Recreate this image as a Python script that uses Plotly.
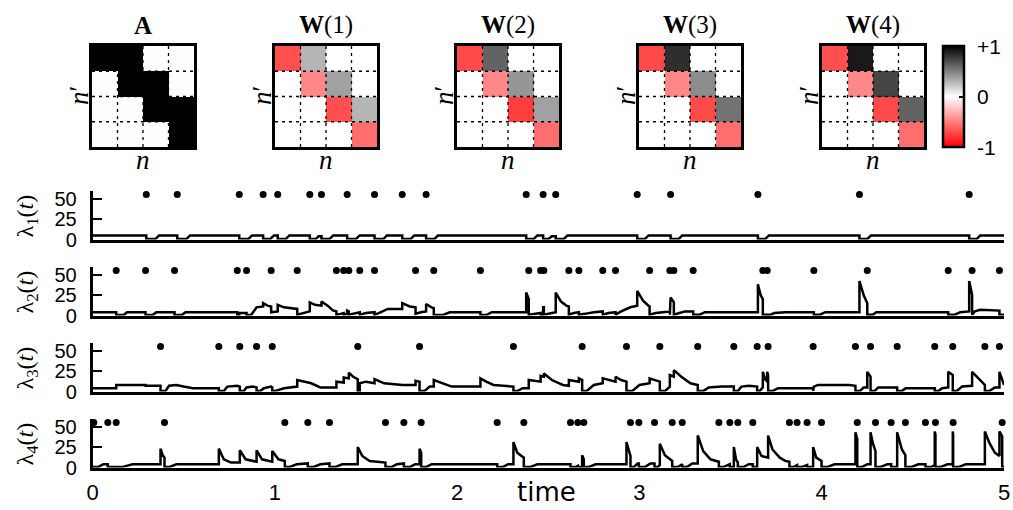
import plotly.graph_objects as go

# ---------------- data ----------------
MAT_A = [[1, 1, 0, 0], [0, 1, 1, 0], [0, 0, 1, 1], [0, 0, 0, 1]]
MAT_W1 = [[-0.69, 0.29, 0, 0], [0, -0.47, 0.37, 0], [0, 0, -0.69, 0.29], [0, 0, 0, -0.57]]
MAT_W2 = [[-0.71, 0.61, 0, 0], [0, -0.47, 0.41, 0], [0, 0, -0.76, 0.37], [0, 0, 0, -0.57]]
MAT_W3 = [[-0.71, 0.82, 0, 0], [0, -0.47, 0.45, 0], [0, 0, -0.71, 0.55], [0, 0, 0, -0.57]]
MAT_W4 = [[-0.69, 0.90, 0, 0], [0, -0.47, 0.73, 0], [0, 0, -0.71, 0.61], [0, 0, 0, -0.57]]
MAT_TITLES = ["<b>A</b>", "<b>W</b>(1)", "<b>W</b>(2)", "<b>W</b>(3)", "<b>W</b>(4)"]
CBAR_VALUES = [-1, 0, 1]
CBAR_LABELS = ["-1", "0", "+1"]

SPIKES1 = [0.295, 0.465, 0.805, 0.936, 1.016, 1.192, 1.256, 1.397, 1.547, 1.699, 1.830,
           2.379, 2.472, 2.541, 2.988, 3.171, 3.650, 4.207, 4.809]
SPIKES2 = [0.130, 0.291, 0.450, 0.794, 0.845, 0.980, 1.123, 1.338, 1.378, 1.406, 1.466,
           1.547, 1.772, 1.872, 2.128, 2.393, 2.458, 2.476, 2.613, 2.668, 2.799, 2.869,
           3.056, 3.167, 3.189, 3.295, 3.677, 3.701, 3.957, 4.250, 4.694, 4.825, 4.975]
SPIKES3 = [0.373, 0.693, 0.808, 0.900, 0.986, 1.455, 1.794, 2.309, 2.686, 2.929, 3.112,
           3.320, 3.518, 3.646, 3.706, 3.953, 4.185, 4.268, 4.414, 4.620, 4.719, 4.895, 4.975]
SPIKES4 = [0.007, 0.084, 0.130, 0.395, 1.055, 1.181, 1.300, 1.607, 1.708, 1.803, 2.220,
           2.366, 2.622, 2.662, 2.695, 2.951, 2.997, 3.083, 3.180, 3.235, 3.436, 3.496,
           3.540, 3.622, 3.823, 3.865, 3.920, 3.999, 4.195, 4.295, 4.381, 4.459, 4.569,
           4.624, 4.721, 4.990]
SPIKE_LEVEL = 55

LAM1 = [(0, 5), (0.295, 5), (0.295, 0.5), (0.345, 0.5), (0.365, 5),
        (0.465, 5), (0.465, 0.5), (0.515, 0.5), (0.535, 5),
        (0.805, 5), (0.805, 0.5), (0.855, 0.5), (0.875, 5),
        (0.936, 5), (0.936, 0.5), (0.975, 0.5), (0.995, 5),
        (1.016, 5), (1.016, 0.5), (1.06, 0.5), (1.08, 5),
        (1.192, 5), (1.192, 0.5), (1.225, 0.5), (1.24, 4),
        (1.256, 4), (1.256, 0.5), (1.3, 0.5), (1.32, 5),
        (1.397, 5), (1.397, 0.5), (1.445, 0.5), (1.465, 5),
        (1.547, 5), (1.547, 0.5), (1.595, 0.5), (1.615, 5),
        (1.699, 5), (1.699, 0.5), (1.745, 0.5), (1.765, 5),
        (1.83, 5), (1.83, 0.5), (1.875, 0.5), (1.895, 5),
        (2.379, 5), (2.379, 0.5), (2.42, 0.5), (2.44, 5),
        (2.472, 5), (2.472, 0.5), (2.5, 0.5), (2.52, 4),
        (2.541, 4), (2.541, 0.5), (2.585, 0.5), (2.605, 5),
        (2.988, 5), (2.988, 0.5), (3.03, 0.5), (3.05, 5),
        (3.171, 5), (3.171, 0.5), (3.215, 0.5), (3.235, 5),
        (3.65, 5), (3.65, 0.5), (3.69, 0.5), (3.71, 5),
        (4.207, 5), (4.207, 0.5), (4.25, 0.5), (4.27, 5),
        (4.809, 5), (4.809, 0.5), (4.85, 0.5), (4.87, 5), (5.0, 5)]

LAM2 = [(0, 4), (0.13, 4), (0.13, 0.5), (0.17, 0.5), (0.19, 4),
        (0.291, 4), (0.291, 0.5), (0.33, 0.5), (0.35, 4),
        (0.45, 4), (0.45, 0.5), (0.49, 0.5), (0.51, 4),
        (0.794, 4), (0.794, 0.5), (0.805, 0.5), (0.805, 3), (0.845, 3), (0.845, 0.5),
        (0.87, 0.5), (0.90, 10), (0.936, 11), (0.936, 15), (0.96, 12), (0.98, 11),
        (0.98, 4), (1.016, 5), (1.016, 13), (1.05, 10), (1.10, 8), (1.123, 8), (1.123, 1),
        (1.16, 3), (1.192, 5), (1.192, 16), (1.22, 13), (1.256, 12), (1.256, 17),
        (1.29, 12), (1.32, 6), (1.338, 5), (1.338, 1), (1.36, 2), (1.378, 3), (1.378, 1),
        (1.397, 2), (1.397, 6), (1.406, 5), (1.406, 1), (1.44, 3), (1.466, 4),
        (1.466, 1), (1.50, 3), (1.547, 4), (1.547, 1), (1.57, 3), (1.62, 8), (1.699, 8),
        (1.699, 15), (1.74, 11), (1.772, 10), (1.772, 2), (1.80, 4), (1.83, 5),
        (1.83, 14), (1.86, 10), (1.872, 9), (1.872, 0.5), (1.92, 0.5), (1.96, 4),
        (2.128, 4), (2.128, 0.5), (2.16, 0.5), (2.19, 4),
        (2.379, 4), (2.379, 28), (2.393, 20), (2.393, 1), (2.42, 2), (2.458, 3),
        (2.458, 1), (2.472, 1), (2.472, 10), (2.476, 10), (2.476, 1), (2.51, 3),
        (2.541, 4), (2.541, 28), (2.57, 17), (2.60, 12), (2.613, 11), (2.613, 1),
        (2.64, 3), (2.668, 4), (2.668, 1), (2.70, 2), (2.75, 4), (2.799, 5), (2.799, 1),
        (2.83, 3), (2.869, 4), (2.869, 1), (2.90, 5), (2.95, 10), (2.988, 12),
        (2.988, 30), (3.02, 18), (3.05, 12), (3.056, 11), (3.056, 1), (3.09, 3),
        (3.167, 5), (3.167, 1), (3.171, 1), (3.171, 22), (3.189, 16), (3.189, 1),
        (3.22, 3), (3.25, 5), (3.295, 5), (3.295, 1), (3.33, 1), (3.36, 4),
        (3.65, 4), (3.65, 38), (3.665, 25), (3.677, 20), (3.677, 1), (3.701, 1),
        (3.72, 1), (3.74, 3), (3.80, 4), (3.957, 4), (3.957, 1), (3.99, 1), (4.02, 4),
        (4.207, 4), (4.207, 42), (4.23, 25), (4.25, 15), (4.25, 1), (4.28, 1),
        (4.30, 4), (4.694, 4), (4.694, 1), (4.73, 1), (4.76, 4), (4.809, 5),
        (4.809, 42), (4.825, 25), (4.825, 1), (4.84, 5), (4.87, 7), (4.94, 6),
        (4.975, 6), (4.975, 1), (5.0, 1)]

LAM3 = [(0, 4), (0.13, 4), (0.13, 8), (0.291, 8), (0.291, 7), (0.373, 7), (0.373, 0.5),
        (0.40, 0.5), (0.42, 7), (0.46, 8), (0.50, 6), (0.55, 4), (0.693, 4),
        (0.693, 0.5), (0.72, 0.5), (0.74, 6), (0.794, 7), (0.808, 6), (0.808, 0.5),
        (0.83, 0.5), (0.845, 5), (0.88, 6), (0.9, 5), (0.9, 0.5), (0.92, 0.5),
        (0.94, 4), (0.98, 6), (0.986, 5), (0.986, 0.5), (1.0, 0.5), (1.05, 4),
        (1.10, 6), (1.123, 6), (1.123, 14), (1.16, 12), (1.20, 10), (1.25, 5),
        (1.338, 5), (1.338, 12), (1.378, 11), (1.378, 17), (1.406, 16), (1.406, 23),
        (1.43, 18), (1.455, 15), (1.455, 0.5), (1.466, 0.5), (1.466, 10), (1.50, 12),
        (1.547, 10), (1.547, 15), (1.60, 10), (1.70, 8), (1.772, 8), (1.772, 13),
        (1.794, 12), (1.794, 0.5), (1.82, 0.5), (1.85, 6), (1.872, 6), (1.872, 14),
        (1.92, 10), (1.97, 6), (2.128, 6), (2.128, 16), (2.16, 12), (2.20, 8),
        (2.309, 6), (2.309, 0.5), (2.33, 0.5), (2.36, 4), (2.393, 4), (2.393, 14),
        (2.458, 12), (2.458, 19), (2.476, 18), (2.476, 22), (2.52, 14), (2.58, 8),
        (2.613, 7), (2.613, 14), (2.668, 12), (2.668, 16), (2.686, 14), (2.686, 0.5),
        (2.71, 0.5), (2.75, 8), (2.799, 10), (2.799, 16), (2.869, 12), (2.869, 18),
        (2.90, 14), (2.929, 12), (2.929, 0.5), (2.96, 0.5), (3.0, 8), (3.056, 10),
        (3.056, 16), (3.112, 12), (3.112, 0.5), (3.14, 0.5), (3.167, 6), (3.167, 20),
        (3.189, 18), (3.189, 26), (3.23, 18), (3.28, 10), (3.32, 8), (3.32, 0.5),
        (3.35, 0.5), (3.38, 5), (3.45, 6), (3.518, 6), (3.518, 0.5), (3.54, 0.5),
        (3.56, 6), (3.60, 7), (3.646, 6), (3.646, 0.5), (3.66, 0.5), (3.677, 5),
        (3.677, 24), (3.69, 15), (3.701, 12), (3.701, 24), (3.706, 20), (3.706, 0.5),
        (3.73, 0.5), (3.76, 4), (3.953, 4), (3.953, 0.5), (3.957, 0.5), (3.957, 6),
        (3.98, 8), (4.15, 8), (4.185, 7), (4.185, 0.5), (4.21, 0.5), (4.23, 5),
        (4.25, 5), (4.25, 24), (4.268, 18), (4.268, 0.5), (4.29, 0.5), (4.31, 5),
        (4.414, 5), (4.414, 0.5), (4.44, 0.5), (4.46, 4), (4.62, 4), (4.62, 0.5),
        (4.64, 0.5), (4.66, 4), (4.694, 5), (4.694, 24), (4.719, 20), (4.719, 0.5),
        (4.74, 0.5), (4.77, 6), (4.825, 7), (4.825, 24), (4.86, 16), (4.895, 8),
        (4.895, 0.5), (4.92, 0.5), (4.95, 5), (4.975, 5), (4.975, 24), (4.99, 15),
        (5.0, 8)]

LAM4 = [(0, 0.5), (0.03, 0.5), (0.06, 4), (0.084, 4), (0.084, 0.5), (0.16, 0.5),
        (0.22, 4), (0.373, 4), (0.373, 23), (0.385, 15), (0.395, 12), (0.395, 0.5),
        (0.42, 0.5), (0.46, 4), (0.693, 4), (0.693, 23), (0.72, 10), (0.76, 6),
        (0.808, 6), (0.808, 21), (0.84, 10), (0.9, 7), (0.9, 21), (0.93, 10),
        (0.986, 7), (0.986, 20), (1.02, 10), (1.055, 8), (1.055, 0.5), (1.08, 0.5),
        (1.12, 4), (1.181, 5), (1.181, 0.5), (1.21, 0.5), (1.25, 4), (1.30, 5),
        (1.30, 0.5), (1.33, 0.5), (1.37, 4), (1.455, 4), (1.455, 25), (1.48, 14),
        (1.52, 8), (1.58, 6), (1.607, 6), (1.607, 0.5), (1.64, 0.5), (1.67, 4),
        (1.708, 5), (1.708, 0.5), (1.74, 0.5), (1.77, 4), (1.794, 4), (1.794, 23),
        (1.803, 18), (1.803, 0.5), (1.83, 0.5), (1.86, 4), (2.22, 4), (2.22, 0.5),
        (2.25, 0.5), (2.28, 4), (2.309, 4), (2.309, 31), (2.33, 18), (2.366, 12),
        (2.366, 0.5), (2.40, 0.5), (2.44, 4), (2.622, 4), (2.622, 0.5), (2.65, 0.5),
        (2.662, 2), (2.662, 0.5), (2.686, 0.5), (2.686, 15), (2.695, 10), (2.695, 0.5),
        (2.72, 0.5), (2.76, 4), (2.929, 4), (2.929, 31), (2.945, 18), (2.951, 14),
        (2.951, 0.5), (2.97, 0.5), (2.99, 5), (2.997, 5), (2.997, 0.5), (3.03, 0.5),
        (3.06, 5), (3.083, 5), (3.083, 0.5), (3.10, 0.5), (3.112, 3), (3.112, 29),
        (3.14, 15), (3.18, 8), (3.18, 0.5), (3.21, 0.5), (3.235, 4), (3.235, 0.5),
        (3.26, 0.5), (3.29, 5), (3.32, 5), (3.32, 39), (3.35, 20), (3.39, 10),
        (3.436, 7), (3.436, 0.5), (3.46, 0.5), (3.49, 4), (3.496, 4), (3.496, 0.5),
        (3.518, 0.5), (3.518, 25), (3.53, 10), (3.54, 6), (3.54, 0.5), (3.57, 0.5),
        (3.60, 4), (3.622, 4), (3.622, 0.5), (3.646, 0.5), (3.646, 25), (3.67, 14),
        (3.706, 12), (3.706, 39), (3.73, 22), (3.77, 12), (3.80, 8), (3.823, 7),
        (3.823, 0.5), (3.845, 0.5), (3.865, 3), (3.865, 0.5), (3.89, 0.5), (3.92, 3),
        (3.92, 0.5), (3.953, 0.5), (3.953, 25), (3.97, 12), (3.999, 8), (3.999, 0.5),
        (4.03, 0.5), (4.07, 4), (4.185, 4), (4.185, 43), (4.195, 35), (4.195, 0.5),
        (4.22, 0.5), (4.25, 4), (4.268, 4), (4.268, 43), (4.28, 30), (4.295, 20),
        (4.295, 0.5), (4.32, 0.5), (4.36, 4), (4.381, 4), (4.381, 0.5), (4.40, 0.5),
        (4.414, 1), (4.414, 43), (4.44, 22), (4.459, 15), (4.459, 0.5), (4.49, 0.5),
        (4.53, 4), (4.569, 4), (4.569, 0.5), (4.60, 0.5), (4.62, 3), (4.62, 44),
        (4.624, 40), (4.624, 0.5), (4.65, 0.5), (4.69, 4), (4.719, 4), (4.719, 44),
        (4.721, 40), (4.721, 0.5), (4.75, 0.5), (4.79, 4), (4.895, 4), (4.895, 44),
        (4.92, 30), (4.95, 18), (4.975, 14), (4.975, 44), (4.99, 38), (4.99, 0.5),
        (5.0, 0.5)]

ROW_LABELS = ["λ<sub>1</sub>(<i>t</i>)", "λ<sub>2</sub>(<i>t</i>)",
              "λ<sub>3</sub>(<i>t</i>)", "λ<sub>4</sub>(<i>t</i>)"]
Y_TICKS = [0, 25, 50]
X_TICKS = [0, 1, 2, 3, 4, 5]

# ---------------- layout helpers ----------------
WPX, HPX = 1013, 510
def fx(px):
    return px / WPX
def fy(py):
    return 1 - py / HPX

SANS = "Liberation Sans, Arial, sans-serif"
SERIF = "Liberation Serif, Times New Roman, serif"

fig = go.Figure()
layout = {}
shapes = []
annotations = []

RWK = [[0, "rgb(255,0,0)"], [0.5, "rgb(255,255,255)"], [1, "rgb(0,0,0)"]]
WK = [[0, "rgb(254,254,254)"], [1, "rgb(0,0,0)"]]

hm_left = [92, 275, 457, 639, 822]
hm_w = 102
hm_top, hm_bot = 46, 147
mats = [MAT_A, MAT_W1, MAT_W2, MAT_W3, MAT_W4]

for i, Z in enumerate(mats):
    sfx = "" if i == 0 else str(i + 1)
    is_a = (i == 0)
    hm = dict(z=Z, xaxis="x" + sfx, yaxis="y" + sfx, hoverinfo="skip",
              colorscale=WK if is_a else RWK,
              zmin=0 if is_a else -1, zmax=1, showscale=(i == 4))
    if i == 4:
        hm["colorbar"] = dict(
            x=fx(943), xanchor="left", xpad=0, ypad=0,
            y=fy((hm_top + hm_bot) / 2), yanchor="middle",
            len=hm_bot - hm_top, lenmode="pixels",
            thickness=21, thicknessmode="pixels",
            outlinewidth=2.5, outlinecolor="black",
            tickvals=CBAR_VALUES, showticklabels=False,
            ticks="inside", ticklen=6, tickwidth=1.5, tickcolor="black")
    fig.add_trace(go.Heatmap(**hm))
    l = hm_left[i]
    layout["xaxis" + sfx] = dict(domain=[fx(l), fx(l + hm_w)], range=[-0.5, 3.5],
                                 anchor="y" + sfx, showgrid=False, zeroline=False,
                                 showticklabels=False, ticks="", showline=True,
                                 mirror=True, linewidth=3, linecolor="black",
                                 automargin=False, fixedrange=True)
    layout["yaxis" + sfx] = dict(domain=[fy(hm_bot), fy(hm_top)], range=[3.5, -0.5],
                                 anchor="x" + sfx, showgrid=False, zeroline=False,
                                 showticklabels=False, ticks="", showline=True,
                                 mirror=True, linewidth=3, linecolor="black",
                                 automargin=False, fixedrange=True)
    for b in [0.5, 1.5, 2.5]:
        shapes.append(dict(type="line", xref="x" + sfx, yref="y" + sfx,
                           x0=b, x1=b, y0=-0.5, y1=3.5, layer="above",
                           line=dict(color="black", width=1.3, dash="3px,4px")))
        shapes.append(dict(type="line", xref="x" + sfx, yref="y" + sfx,
                           x0=-0.5, x1=3.5, y0=b, y1=b, layer="above",
                           line=dict(color="black", width=1.3, dash="3px,4px")))
    cx = l + hm_w / 2
    annotations.append(dict(text=MAT_TITLES[i], x=fx(cx), y=fy(25), xref="paper",
                            yref="paper", showarrow=False, xanchor="center",
                            yanchor="middle", font=dict(family=SERIF, size=25, color="black")))
    annotations.append(dict(text="<i>n</i>", x=fx(cx), y=fy(160), xref="paper",
                            yref="paper", showarrow=False, xanchor="center",
                            yanchor="middle", font=dict(family=SERIF, size=27, color="black")))
    annotations.append(dict(text="<i>n</i>′", x=fx(l - 13), y=fy(96), xref="paper",
                            yref="paper", showarrow=False, xanchor="center",
                            yanchor="middle", textangle=-90,
                            font=dict(family=SERIF, size=27, color="black")))

# colorbar labels
for v, lab in zip(CBAR_VALUES, CBAR_LABELS):
    py = (hm_top + hm_bot) / 2 - v * (hm_bot - hm_top) / 2
    annotations.append(dict(text=lab, x=fx(975), y=fy(py), xref="paper", yref="paper",
                            showarrow=False, xanchor="left", yanchor="middle",
                            font=dict(family=SANS, size=21, color="black")))

# ---------------- time rows ----------------
zero_px = [239.5, 315.5, 391.5, 467.5]
px_per_unit = 0.82
ytop = 59
lams = [LAM1, LAM2, LAM3, LAM4]
spikes = [SPIKES1, SPIKES2, SPIKES3, SPIKES4]

for k in range(4):
    n = 6 + k
    xa, ya = "x%d" % n, "y%d" % n
    p0 = zero_px[k]
    layout["xaxis%d" % n] = dict(domain=[fx(92.5), fx(1004)], range=[0, 5], anchor=ya,
                                 showgrid=False, zeroline=False, showline=True,
                                 linewidth=2.5, linecolor="black", ticks="",
                                 tickvals=X_TICKS, showticklabels=(k == 3),
                                 ticklabelstandoff=3, automargin=False,
                                 tickfont=dict(family=SANS, size=22, color="black"),
                                 fixedrange=True)
    layout["yaxis%d" % n] = dict(domain=[fy(p0), fy(p0 - ytop * px_per_unit)],
                                 range=[0, ytop], anchor=xa, showgrid=False,
                                 zeroline=False, showline=True, linewidth=2.5,
                                 linecolor="black", ticks="inside", ticklen=10,
                                 tickwidth=2, tickcolor="black", tickvals=Y_TICKS,
                                 ticklabelstandoff=9, automargin=False,
                                 tickfont=dict(family=SANS, size=20, color="black"),
                                 fixedrange=True)
    tt = [p[0] for p in lams[k]]
    vv = [p[1] for p in lams[k]]
    fig.add_trace(go.Scatter(x=tt, y=vv, mode="lines", xaxis=xa, yaxis=ya,
                             line=dict(color="black", width=2.5), hoverinfo="skip",
                             cliponaxis=False))
    fig.add_trace(go.Scatter(x=spikes[k], y=[SPIKE_LEVEL] * len(spikes[k]),
                             mode="markers", xaxis=xa, yaxis=ya, cliponaxis=False,
                             marker=dict(color="black", size=7), hoverinfo="skip"))
    annotations.append(dict(text=ROW_LABELS[k], x=fx(26), y=fy(p0 - 23), xref="paper",
                            yref="paper", showarrow=False, xanchor="center",
                            yanchor="middle", textangle=-90,
                            font=dict(family=SERIF, size=24, color="black")))

annotations.append(dict(text="time", x=fx(546), y=fy(492), xref="paper", yref="paper",
                        showarrow=False, xanchor="center", yanchor="middle",
                        font=dict(family="DejaVu Sans, sans-serif", size=26, color="black")))

fig.update_layout(**layout)
fig.update_layout(template="none", width=WPX, height=HPX,
                  margin=dict(l=0, r=0, t=0, b=0, pad=0, autoexpand=False),
                  paper_bgcolor="white", plot_bgcolor="white", showlegend=False,
                  shapes=shapes, annotations=annotations)

fig.write_html("out.html", config={"displayModeBar": False},
               post_script="document.body.style.margin='0px';document.body.style.padding='0px';")
